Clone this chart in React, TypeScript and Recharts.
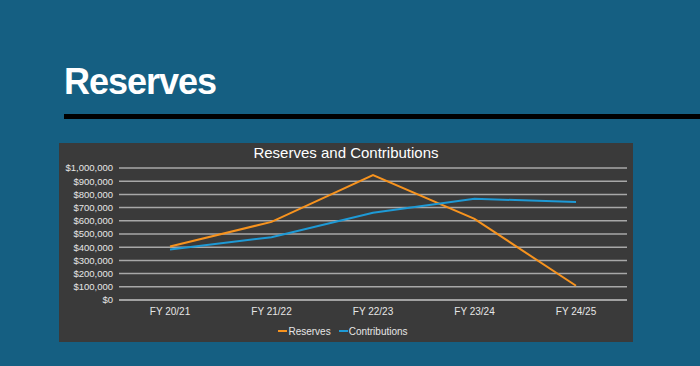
import React from 'react';
import { LineChart, Line, XAxis, YAxis, CartesianGrid, Legend } from 'recharts';

const categories = ['FY 20/21', 'FY 21/22', 'FY 22/23', 'FY 23/24', 'FY 24/25'];
const reserves = [405000, 592000, 947000, 614000, 108000];
const contributions = [383000, 476000, 661000, 767000, 742000];
const yTicks = [0, 100000, 200000, 300000, 400000, 500000, 600000, 700000, 800000, 900000, 1000000];

const data = categories.map((c, i) => ({ name: c, Reserves: reserves[i], Contributions: contributions[i] }));

const ORANGE = '#f7931e';
const BLUE = '#1e9ad6';
const FONT = '"Liberation Sans", Arial, sans-serif';

const fmt = (v: number) => '$' + v.toLocaleString('en-US');

const LegendContent = () => (
  <div style={{ display: 'flex', justifyContent: 'center', alignItems: 'center', fontFamily: FONT, fontSize: 10, color: '#e6e6e6', height: 20 }}>
    {[['Reserves', ORANGE], ['Contributions', BLUE]].map(([n, c], i) => (
      <div key={n} style={{ display: 'flex', alignItems: 'center', marginLeft: i ? 8 : 0 }}>
        <span style={{ display: 'inline-block', width: 9, height: 2, background: c, marginRight: 1 }} />
        <span>{n}</span>
      </div>
    ))}
  </div>
);

export default function App() {
  return (
    <div style={{ position: 'absolute', left: 0, top: 0, width: 700, height: 366, background: '#155f82', overflow: 'hidden', fontFamily: FONT }}>
      <div style={{ position: 'absolute', left: 64, top: 64, fontSize: 36, lineHeight: '36px', fontWeight: 'bold', color: '#ffffff', letterSpacing: -1 }}>Reserves</div>
      <div style={{ position: 'absolute', left: 64, top: 114, width: 636, height: 5, background: '#000000' }} />
      <div style={{ position: 'absolute', left: 59, top: 143, width: 574, height: 199, background: '#3a3a3a' }}>
        <div style={{ position: 'absolute', left: 0, top: 1, width: 574, textAlign: 'center', fontSize: 15, lineHeight: '18px', color: '#ffffff' }}>Reserves and Contributions</div>
        <LineChart width={574} height={199} data={data} margin={{ top: 25, right: 6, bottom: 1, left: 0 }}>
          <CartesianGrid horizontal={true} vertical={false} stroke="#a8a8a8" strokeWidth={1.5} />
          <XAxis dataKey="name" height={21} padding={{ left: 51, right: 51 }} tickLine={false} axisLine={{ stroke: '#a8a8a8', strokeWidth: 1.5 }} tick={{ fill: '#e6e6e6', fontSize: 10, fontFamily: FONT }} interval={0} />
          <YAxis width={60} domain={[0, 1000000]} ticks={yTicks} tickFormatter={fmt} tickLine={false} axisLine={false} tickSize={0} tickMargin={6} interval={0} tick={{ fill: '#e6e6e6', fontSize: 9.5, fontFamily: FONT }} />
          <Legend verticalAlign="bottom" height={20} content={<LegendContent />} />
          <Line dataKey="Reserves" stroke={ORANGE} strokeWidth={2} dot={false} isAnimationActive={false} />
          <Line dataKey="Contributions" stroke={BLUE} strokeWidth={2} dot={false} isAnimationActive={false} />
        </LineChart>
      </div>
    </div>
  );
}
